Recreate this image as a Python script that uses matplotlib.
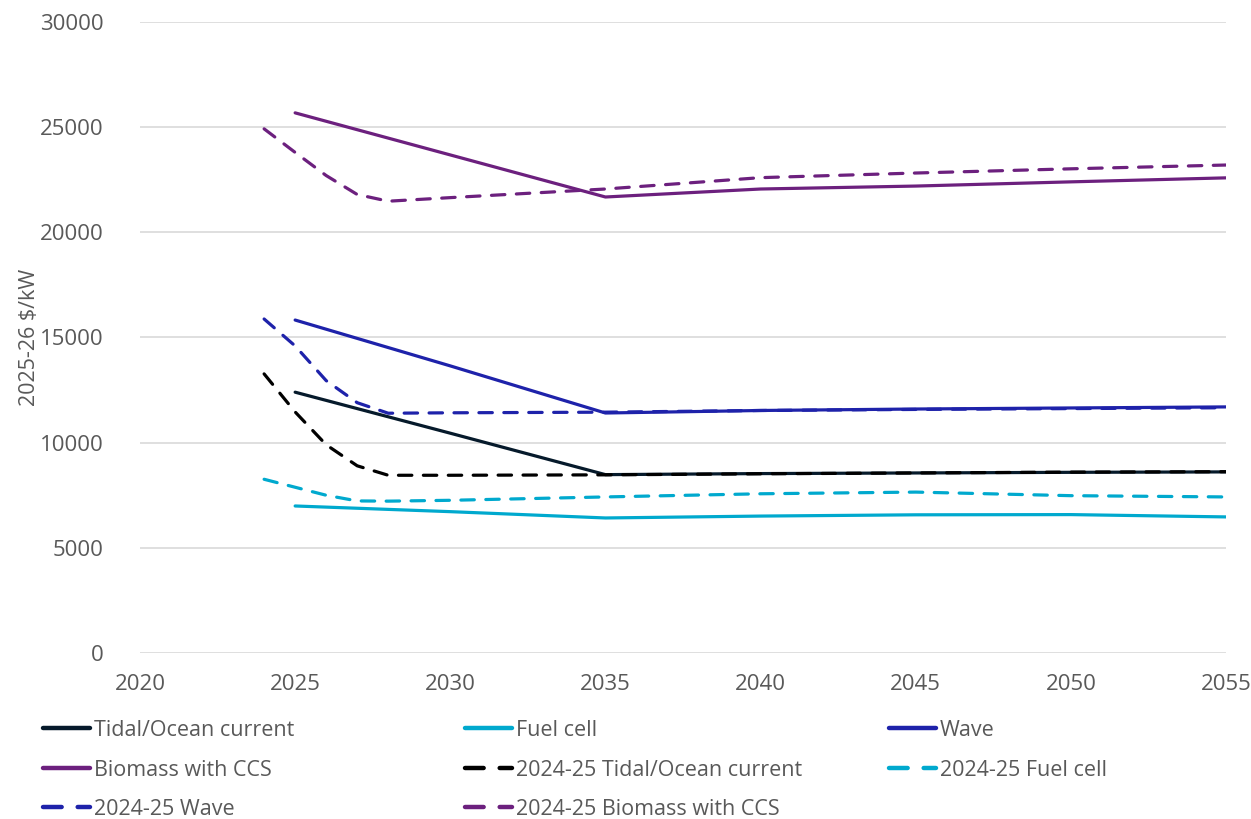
import numpy as np
import matplotlib.pyplot as plt
from matplotlib.lines import Line2D

# current estimates (solid)
years_new = [2025, 2030, 2035, 2040, 2045, 2050, 2055]
tidal_new = [12400, 10450, 8480, 8530, 8560, 8590, 8610]
fuel_new = [6990, 6720, 6420, 6510, 6570, 6580, 6470]
wave_new = [15830, 13650, 11410, 11530, 11600, 11650, 11700]
biomass_new = [25680, 23680, 21680, 22060, 22200, 22400, 22590]

# previous year estimates (dashed)
years_old = [2024, 2025, 2026, 2027, 2028, 2030, 2035, 2040, 2045, 2050, 2055]
tidal_old = [13270, 11460, 9900, 8900, 8450, 8450, 8470, 8520, 8560, 8600, 8620]
fuel_old = [8260, 7880, 7500, 7230, 7220, 7260, 7420, 7570, 7650, 7480, 7420]
wave_old = [15880, 14600, 12950, 11900, 11400, 11420, 11450, 11530, 11580, 11620, 11660]
biomass_old = [24920, 23800, 22700, 21800, 21480, 21650, 22060, 22600, 22820, 23020, 23200]

labels = ["Tidal/Ocean current", "Fuel cell", "Wave", "Biomass with CCS",
          "2024-25 Tidal/Ocean current", "2024-25 Fuel cell",
          "2024-25 Wave", "2024-25 Biomass with CCS"]

c_tidal = '#061A2B'
c_tidal_old = '#000000'
c_fuel = '#00A9CE'
c_wave = '#1E22AA'
c_bio = '#6C207E'

plt.rcParams['font.family'] = ['Open Sans', 'DejaVu Sans']
txt = '#595959'

fig = plt.figure(figsize=(12.51, 8.19), dpi=100)
ax = fig.add_axes([140/1251, 166/819, 1086/1251, 631/819])

lw = 2.3
dash = (4.2, 3.6)
lines = []
for x, y, c in [(years_new, tidal_new, c_tidal), (years_new, fuel_new, c_fuel),
                (years_new, wave_new, c_wave), (years_new, biomass_new, c_bio)]:
    l, = ax.plot(x, y, color=c, lw=lw, solid_capstyle='round')
    lines.append(l)
for x, y, c in [(years_old, tidal_old, c_tidal_old), (years_old, fuel_old, c_fuel),
                (years_old, wave_old, c_wave), (years_old, biomass_old, c_bio)]:
    l, = ax.plot(x, y, color=c, lw=lw, dashes=dash, dash_capstyle='round')
    lines.append(l)

ax.set_xlim(2020, 2055)
ax.set_ylim(0, 30000)
ax.set_xticks(range(2020, 2056, 5))
ax.set_yticks(range(0, 30001, 5000))
ax.grid(axis='y', color='#D9D9D9', lw=1.2)
ax.set_axisbelow(True)
for s in ax.spines.values():
    s.set_visible(False)
ax.tick_params(length=0, labelsize=16, colors=txt)
ax.tick_params(axis='y', pad=26.5)
ax.tick_params(axis='x', pad=15)
ax.set_ylabel("2025-26 $/kW", fontsize=15.5, color=txt)
ax.yaxis.set_label_coords(-0.092, 0.5)

# legend laid out row by row in three columns
cols_x = [43/1251, 465/1251, 889/1251]
for ci in range(3):
    idx = [i for i in range(8) if i % 3 == ci]
    leg = fig.legend([lines[i] for i in idx], [labels[i] for i in idx],
                     loc='upper left', bbox_to_anchor=(cols_x[ci], 1 - 720/819),
                     frameon=False, fontsize=15.5, labelcolor=txt,
                     handlelength=2.2, handletextpad=0.15, labelspacing=0.86,
                     borderaxespad=0, borderpad=0)
    for h in leg.get_lines():
        h.set_linewidth(3.2)

fig.savefig('out.png', dpi=100)
